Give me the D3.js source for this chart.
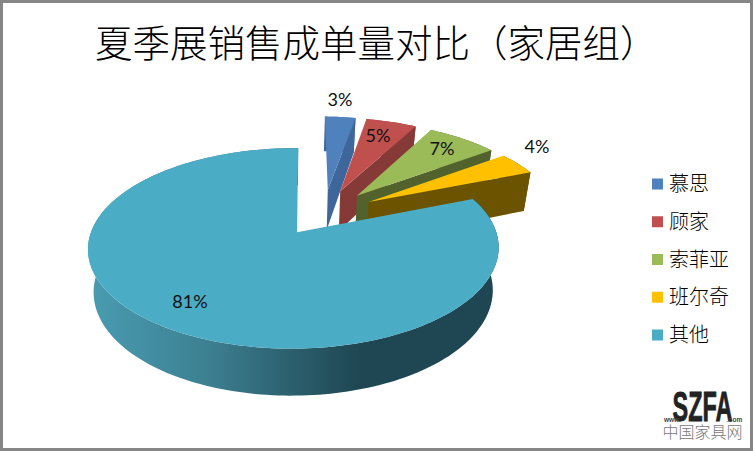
<!DOCTYPE html>
<html><head><meta charset="utf-8">
<script src="https://cdn.jsdelivr.net/npm/d3@7/dist/d3.min.js"></script>
<style>html,body{margin:0;padding:0;background:#fff}svg{display:block}</style>
</head><body><svg id="c" width="753" height="451"></svg>
<script>
const titleText = "夏季展销售成单量对比（家居组）";
const categories = ["慕思","顾家","索菲亚","班尔奇","其他"];
const shares = [3,5,7,4,81];
const explodes = [0.27,0.27,0.27,0.27,0.24];
const colors = ["#4f81bd","#c0504d","#9bbb59","#ffc000","#4bacc6"];
const cutColors = ["#3f669a","#853a38","#52622c","#6b5300","#3a8296"];

const W=753,H=451;
const svg=d3.select("#c");
const font='"Noto Sans CJK SC","Noto Sans",sans-serif';
svg.append("rect").attr("x",1.5).attr("y",1.5).attr("width",W-3).attr("height",H-3).attr("fill","#fff").attr("stroke","#868686").attr("stroke-width",3);

const k=0.16, m=0.017, Rx=202.5, Ry=97.4, X0=293, Y0=231.5, shrink=0.972, Xv=290, shear=-2;
const cx0=0.155, cy0=-0.19;
function proj(u,v,down){
  const w=1-k*v+m*u;
  let x=X0+(Rx*u+shear*v)/w, y=Y0+Ry*v/w;
  if(down){x=Xv+(x-Xv)*shrink;y+=42+5*v;}
  return [x,y];
}
const pie=d3.pie().value(d=>d).sort(null).startAngle(0).endAngle(2*Math.PI);
const arcs=pie(shares);
const line=d3.line();
const defs=svg.append("defs");
function pt(o,a,r){return [o[0]+r*Math.sin(a),o[1]-r*Math.cos(a)];}
arcs.forEach((a,i)=>{
  const mid=(a.startAngle+a.endAngle)/2;
  a.o=[cx0+explodes[i]*Math.sin(mid),cy0-explodes[i]*Math.cos(mid)];
  const n=Math.max(6,Math.ceil((a.endAngle-a.startAngle)*40));
  a.angles=d3.range(n+1).map(j=>a.startAngle+(a.endAngle-a.startAngle)*j/n);
});
const g=defs.append("linearGradient").attr("id","rim").attr("gradientUnits","userSpaceOnUse").attr("x1",87).attr("x2",498).attr("y1",0).attr("y2",0);
[[0,"#4a9cb2"],[0.3,"#3c7f91"],[0.5,"#2b5f6d"],[0.66,"#1f4653"],[1,"#1f4653"]].forEach(s=>g.append("stop").attr("offset",s[0]).attr("stop-color",s[1]));

arcs.forEach((a,i)=>{
  const G=svg.append("g");
  const topPts=a.angles.map(t=>{const p=pt(a.o,t,1);return proj(p[0],p[1],false);});
  const botPts=a.angles.map(t=>{const p=pt(a.o,t,1);return proj(p[0],p[1],true);});
  const cT=proj(a.o[0],a.o[1],false), cB=proj(a.o[0],a.o[1],true);
  const endT=topPts[topPts.length-1],endB=botPts[botPts.length-1];
  const big=i===categories.length-1;
  if(big){
    G.append("path").attr("d",line(topPts.concat(botPts.slice().reverse()))+"Z").attr("fill","url(#rim)");
  }else{
    G.append("path").attr("d",line([cT,endT,endB,cB])+"Z").attr("fill",cutColors[i]);
    G.append("path").attr("d",line(topPts.concat(botPts.slice().reverse()))+"Z").attr("fill",cutColors[i]);
  }
  G.append("path").attr("d",line([cT].concat(topPts))+"Z").attr("fill",colors[i]);
});

const labelAt=[[340,101],[378,137],[442,150],[537,148],[190,303]];
svg.append("g").selectAll("text").data(shares).join("text")
  .attr("x",(d,i)=>labelAt[i][0]).attr("y",(d,i)=>labelAt[i][1]).attr("text-anchor","middle").attr("dominant-baseline","middle")
  .attr("font-family","Lato,"+font).attr("font-size",18).attr("fill","#111").text(d=>d+"%");

svg.append("text").attr("x",95).attr("y",57).attr("font-family",font).attr("font-weight",300)
  .attr("font-size",37.5).attr("fill","#000").text(titleText);

const ly=d3.scalePoint().domain(categories).range([184,335]);
const lg=svg.append("g").selectAll("g").data(categories).join("g").attr("transform",d=>`translate(0,${ly(d)})`);
lg.append("rect").attr("x",652).attr("y",-5.5).attr("width",11).attr("height",11).attr("fill",(d,i)=>colors[i]);
lg.append("text").attr("x",669).attr("y",7).attr("font-family",font).attr("font-size",20).attr("font-weight",300).attr("fill","#000").text(d=>d);

svg.append("text").attr("x",702.5).attr("y",421).attr("text-anchor","middle").attr("font-family","Liberation Sans Narrow,Liberation Sans,sans-serif").attr("font-weight",700).attr("font-size",42).attr("fill","#222").attr("stroke","#222").attr("stroke-width",0.8).attr("textLength",60).attr("lengthAdjust","spacingAndGlyphs").text("SZFA");
svg.append("text").attr("x",664).attr("y",422).attr("font-family","Liberation Sans").attr("font-weight",700).attr("font-size",6.5).attr("fill","#444").text("www.");
svg.append("text").attr("x",727).attr("y",422).attr("font-family","Liberation Sans").attr("font-weight",700).attr("font-size",6.5).attr("fill","#444").text(".com");
svg.append("text").attr("x",702.5).attr("y",438).attr("text-anchor","middle").attr("font-family",font).attr("font-size",16).attr("font-weight",300).attr("fill","#777").text("中国家具网");
</script></body></html>
